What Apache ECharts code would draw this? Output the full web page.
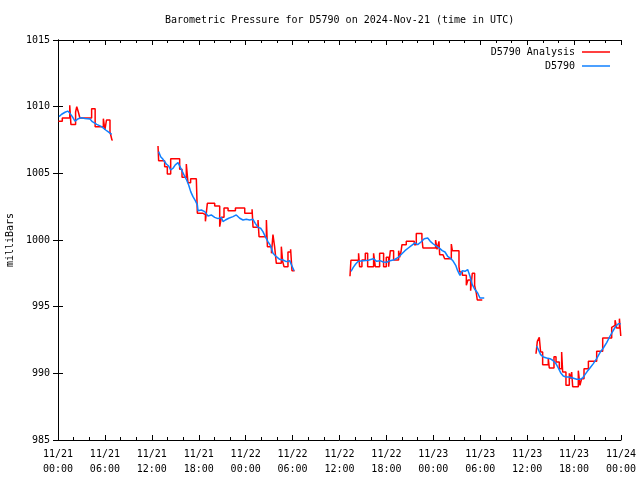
<!DOCTYPE html>
<html>
<head>
<meta charset="utf-8">
<script src="https://cdn.jsdelivr.net/npm/echarts@6/dist/echarts.min.js"></script>
<style>html,body{margin:0;padding:0;background:#fff}#c{width:640px;height:480px}</style>
</head>
<body>
<div id="c"></div>
<script>
// Hours since 2024-11-21 00:00 UTC; null value = data gap
const obsTimes = [
  0.13,0.47,0.9,1.24,1.53,1.83,2.17,2.52,2.94,3.45,4.09,4.39,4.95,5.58,6.1,6.52,6.86,
  9,
  12.87,13.13,13.43,13.85,14.15,14.41,14.71,15.0,15.35,15.56,15.77,16.11,16.41,16.71,16.97,17.26,17.56,17.82,17.9,18.33,18.76,19.18,19.6,20.04,20.46,20.89,21.1,21.4,21.83,22.38,22.8,23.24,23.66,24.08,24.51,24.94,25.23,25.58,25.92,26.21,26.51,26.85,27.2,27.49,27.92,28.35,28.77,29.2,29.63,29.92,30.18,
  33,
  37.47,37.76,38.07,38.4,39.04,39.68,40.32,40.75,41.18,41.6,42.03,42.46,43.0,43.52,43.95,44.37,44.8,45.23,45.65,46.0,46.42,46.84,47.28,47.61,48.0,48.43,48.85,49.14,49.49,49.83,50.26,50.55,50.86,51.11,51.41,51.71,52.05,52.39,52.69,52.98,53.32,53.67,53.96,54.51,
  57,
  61.21,61.42,61.72,62.06,62.49,62.92,63.26,63.68,63.98,64.28,64.62,64.96,65.39,65.82,66.33,66.75,67.1,67.39,67.69,68.03,68.46,68.89,69.31,69.74,70.17,70.6,71.02,71.36,71.66,71.97
];
const obsValues = [
  1009.25,1009.43,1009.58,1009.67,1009.5,1009.25,1008.92,1009.07,1009.17,1009.12,1009.07,1008.87,1008.67,1008.5,1008.25,1008.07,1007.92,
  null,
  1006.63,1006.25,1006.05,1005.7,1005.55,1005.25,1005.38,1005.63,1005.8,1005.7,1005.3,1004.88,1004.55,1004.13,1003.63,1003.25,1002.95,1002.63,1002.2,1002.25,1002.13,1001.8,1001.88,1001.7,1001.6,1001.7,1001.38,1001.5,1001.63,1001.75,1001.88,1001.63,1001.5,1001.55,1001.5,1001.55,1001.25,1000.95,1000.88,1000.63,1000.25,999.88,999.55,999.0,998.75,998.55,998.5,998.38,998.45,998.05,997.7,
  null,
  997.65,997.95,998.2,998.4,998.45,998.48,998.6,998.4,998.45,998.35,998.33,998.45,998.52,998.7,998.95,999.2,999.4,999.6,999.78,999.65,999.85,1000.1,1000.15,999.9,999.7,999.53,999.35,999.2,999.1,998.78,998.6,998.4,998.1,997.7,997.35,997.7,997.65,997.78,997.28,996.65,996.28,996.03,995.65,995.65,
  null,
  992.05,991.8,991.4,991.23,991.15,991.1,990.98,990.73,990.4,990.05,989.8,989.73,989.73,989.65,989.55,989.55,989.65,989.9,990.15,990.4,990.73,991.1,991.55,991.9,992.3,992.8,993.23,993.55,993.72,993.72
];

const anaTimes = [
  0.05,0.55,1.5,1.65,2.25,2.4,2.6,2.8,4.3,4.75,5.8,6.0,6.2,6.65,6.9,7.0,
  7.0,
  12.79,12.87,13.64,13.98,14.41,15.56,15.86,16.41,16.62,16.96,17.69,17.82,18.55,18.85,19.1,20.04,20.68,20.89,21.23,21.75,22.69,23.88,24.82,24.94,25.58,25.71,26.65,26.78,27.3,27.49,27.7,27.92,28.56,28.73,28.9,29.41,29.75,29.92,30.26,
  30.26,
  37.34,37.46,38.44,38.57,38.87,39.3,39.6,40.36,40.58,41.13,41.64,41.98,42.28,42.5,42.92,43.56,43.69,43.86,43.99,44.54,45.56,45.82,46.54,46.67,48.29,48.47,48.72,48.81,49.24,49.45,50.3,50.43,51.28,51.37,51.71,52.22,52.43,52.77,52.98,53.28,53.5,53.62,54.26,
  54.26,
  61.13,61.3,61.55,61.72,61.98,62.7,62.83,63.43,63.69,64.11,64.41,64.54,64.96,65.39,65.56,65.69,65.82,66.54,66.75,66.97,67.27,67.83,68.89,69.66,70.81,70.94,71.24,71.45,71.8,71.97,72.0
];
const anaValues = [
  1008.9,1009.15,1010.1,1008.67,1009.6,1010.0,1009.6,1009.15,1009.85,1008.5,1009.1,1008.25,1009.0,1008.1,1007.5,1007.5,
  null,
  1007.05,1005.95,1005.5,1004.95,1006.1,1005.3,1004.7,1005.7,1004.3,1004.6,1004.7,1002.0,1001.9,1001.4,1002.75,1002.55,1001.0,1001.7,1002.4,1002.2,1002.4,1002.0,1002.3,1000.95,1001.5,1000.25,1001.5,999.5,999.0,1000.4,999.5,998.25,999.5,998.4,998.0,999.1,999.3,997.7,997.7,
  null,
  997.28,998.48,999.0,998.0,998.5,999.0,998.0,999.0,998.0,999.0,998.0,998.7,998.0,999.2,998.5,999.2,998.7,999.1,999.65,999.9,999.65,1000.48,1000.1,999.4,1000.0,999.3,999.9,998.9,999.0,998.6,999.7,999.2,998.0,997.6,997.35,996.6,997.0,996.2,997.5,996.6,996.0,995.5,995.5,
  null,
  991.47,992.4,992.7,991.6,990.65,991.1,990.4,991.25,990.85,990.35,991.6,990.1,989.1,990.0,989.6,990.1,989.0,990.2,989.1,989.6,990.35,990.9,991.65,992.65,993.45,993.6,993.98,993.4,994.1,992.8,992.8
];

const xTickLabels = ['11/21\n00:00','11/21\n06:00','11/21\n12:00','11/21\n18:00','11/22\n00:00','11/22\n06:00','11/22\n12:00','11/22\n18:00','11/23\n00:00','11/23\n06:00','11/23\n12:00','11/23\n18:00','11/24\n00:00'];
const yTicks = [985, 990, 995, 1000, 1005, 1010, 1015];

const titleText = 'Barometric Pressure for D5790 on 2024-Nov-21 (time in UTC)';
const seriesNames = ['D5790 Analysis', 'D5790'];

function zip(t, v) { return t.map((x, i) => [x, v[i]]); }

const FONT = 'DejaVu Sans Mono';
const txt = { fontFamily: FONT, fontSize: 10, color: '#000' };

const chart = echarts.init(document.getElementById('c'), null, { renderer: 'canvas' });
const xCommon = {
  type: 'value', min: 0, max: 72, interval: 6,
  axisLine: { show: true, lineStyle: { color: '#000', width: 1 } },
  axisTick: { show: true, inside: true, length: 5, lineStyle: { color: '#000' } },
  minorTick: { show: true, splitNumber: 3, length: 3, lineStyle: { color: '#000' } },
  splitLine: { show: false }
};
const yCommon = {
  type: 'value', min: yTicks[0], max: yTicks[yTicks.length - 1], interval: 5,
  axisLine: { show: true, lineStyle: { color: '#000', width: 1 } },
  axisTick: { show: true, inside: true, length: 5, lineStyle: { color: '#000' } },
  splitLine: { show: false }
};
chart.setOption({
  animation: false,
  backgroundColor: '#fff',
  title: { text: titleText, left: 160, top: 10, textStyle: Object.assign({ fontWeight: 'normal' }, txt) },
  grid: { left: 58, right: 19, top: 40, bottom: 40, containLabel: false, outerBoundsMode: 'none' },
  legend: [
    { data: [seriesNames[0]], right: 25, top: 42, orient: 'vertical', align: 'right', icon: 'rect', itemWidth: 28, itemHeight: 1.5, textStyle: Object.assign({ padding: [0, 2, 0, 0] }, txt) },
    { data: [seriesNames[1]], right: 25, top: 56, orient: 'vertical', align: 'right', icon: 'rect', itemWidth: 28, itemHeight: 1.5, textStyle: Object.assign({ padding: [0, 2, 0, 0] }, txt) }
  ],
  xAxis: [
    Object.assign({}, xCommon, {
      position: 'bottom',
      axisLabel: Object.assign({ margin: 7, lineHeight: 15, formatter: v => xTickLabels[Math.round(v / 6)] }, txt)
    }),
    Object.assign({}, xCommon, { position: 'top', axisLabel: { show: false } })
  ],
  yAxis: [
    Object.assign({}, yCommon, {
      position: 'left',
      name: 'milliBars', nameLocation: 'middle', nameRotate: 90, nameGap: 43,
      nameTextStyle: txt,
      axisLabel: Object.assign({ margin: 8, formatter: v => String(v) }, txt)
    }),
    Object.assign({}, yCommon, { position: 'right', axisLabel: { show: false } })
  ],
  series: [
    {
      name: seriesNames[0], type: 'line', step: 'end', showSymbol: false, symbol: 'none',
      connectNulls: false, data: zip(anaTimes, anaValues),
      itemStyle: { color: '#ff0000' }, lineStyle: { color: '#ff0000', width: 1.5 }
    },
    {
      name: seriesNames[1], type: 'line', showSymbol: false, symbol: 'none',
      connectNulls: false, data: zip(obsTimes, obsValues),
      itemStyle: { color: '#1080ff' }, lineStyle: { color: '#1080ff', width: 1.5 }
    }
  ]
});
</script>
</body>
</html>
